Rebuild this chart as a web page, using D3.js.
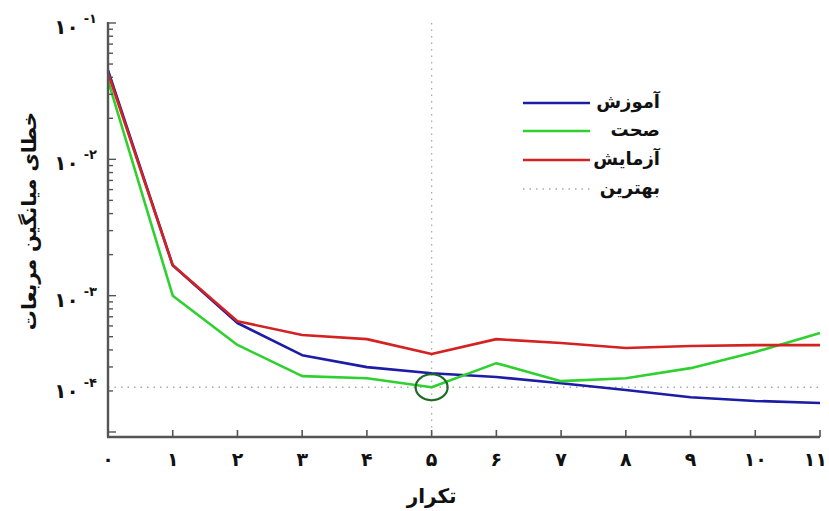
<!DOCTYPE html>
<html><head><meta charset="utf-8">
<script src="https://cdn.jsdelivr.net/npm/d3@7"></script>
<style>body{margin:0;background:#fff} svg{display:block}</style>
</head><body><svg id="c" width="829" height="511"></svg>
<script>
// ---- data ----
const epochs = [0,1,2,3,4,5,6,7,8,9,10,11];
const train      = [4.5e-2, 1.67e-3, 6.3e-4, 3.66e-4, 2.99e-4, 2.70e-4, 2.53e-4, 2.28e-4, 2.03e-4, 1.80e-4, 1.69e-4, 1.63e-4];
const validation = [3.8e-2, 1.0e-3, 4.35e-4, 2.57e-4, 2.48e-4, 2.13e-4, 3.2e-4, 2.36e-4, 2.48e-4, 2.94e-4, 3.86e-4, 5.32e-4];
const test       = [4.3e-2, 1.67e-3, 6.5e-4, 5.14e-4, 4.8e-4, 3.73e-4, 4.8e-4, 4.49e-4, 4.13e-4, 4.27e-4, 4.34e-4, 4.34e-4];
const bestEpoch = 5;
const bestValue = 2.13e-4;
const xTickLabels = ["۰","۱","۲","۳","۴","۵","۶","۷","۸","۹","۱۰","۱۱"];
const yTickValues = [1e-1, 1e-2, 1e-3, 2.13e-4];
const yTickExponents = ["-۱","-۲","-۳","-۴"];
const seriesNames = ["آموزش","صحت","آزمایش","بهترین"];
const xTitle = "تکرار";
const yTitle = "خطای میانگین مربعات";

// ---- layout ----
const svg = d3.select("#c");
const font = "'DejaVu Sans', sans-serif";
const x = d3.scaleLinear().domain([0, 11]).range([108, 820]);
const y = d3.scaleLog().domain([Math.pow(10, -4.0367), 1e-1]).range([437, 23]);
const colors = ["#1c1ca6", "#2fd02f", "#d42222"];
const axisColor = "#555";

// best dotted lines
svg.append("line").attr("x1", x(0)).attr("x2", x(11)).attr("y1", y(bestValue)).attr("y2", y(bestValue))
  .attr("stroke", "#aaa").attr("stroke-width", 1.3).attr("stroke-dasharray", "1.5,5");
svg.append("line").attr("x1", x(bestEpoch)).attr("x2", x(bestEpoch)).attr("y1", y.range()[1]).attr("y2", y.range()[0])
  .attr("stroke", "#aaa").attr("stroke-width", 1.3).attr("stroke-dasharray", "1.5,5");

// series
const line = d3.line().x((d, i) => x(epochs[i])).y(d => y(d));
[train, validation, test].forEach((s, k) => {
  svg.append("path").datum(s).attr("d", line).attr("fill", "none")
    .attr("stroke", colors[k]).attr("stroke-width", 2.6).attr("stroke-linejoin", "round");
});

// best marker circle
svg.append("ellipse").attr("cx", x(bestEpoch)).attr("cy", y(validation[bestEpoch]))
  .attr("rx", 16).attr("ry", 13).attr("fill", "none").attr("stroke", "#1d6b24").attr("stroke-width", 2.2);

// axes lines
svg.append("line").attr("x1", x(0)).attr("x2", x(0)).attr("y1", 22).attr("y2", 437)
  .attr("stroke", axisColor).attr("stroke-width", 2.4);
svg.append("line").attr("x1", x(0) - 1).attr("x2", x(11)).attr("y1", 437).attr("y2", 437)
  .attr("stroke", axisColor).attr("stroke-width", 2.4);

// x ticks
epochs.forEach((e, i) => {
  svg.append("line").attr("x1", x(e)).attr("x2", x(e)).attr("y1", 437).attr("y2", 430)
    .attr("stroke", axisColor).attr("stroke-width", 1.6);
  const last = i === epochs.length - 1;
  svg.append("text").attr("x", last ? 827 : x(e)).attr("y", 466)
    .attr("text-anchor", last ? "end" : "middle")
    .attr("font-family", font).attr("font-weight", "bold").attr("font-size", 19).attr("fill", "#111")
    .text(xTickLabels[i]);
});

// y ticks (major + minor)
for (let p = -4; p <= -1; p++) {
  for (let m = 1; m <= 9; m++) {
    const v = m * Math.pow(10, p);
    if (v > 0.1 + 1e-12 || v < y.domain()[0]) continue;
    svg.append("line").attr("x1", x(0)).attr("x2", x(0) + (m === 1 ? 8 : 5))
      .attr("y1", y(v)).attr("y2", y(v)).attr("stroke", axisColor).attr("stroke-width", 1.4);
  }
}
yTickValues.forEach((v, i) => {
  const t = svg.append("text").attr("x", 97).attr("y", y(v) + 11).attr("text-anchor", "end")
    .attr("direction", "ltr")
    .attr("font-family", font).attr("font-weight", "bold").attr("fill", "#111");
  t.append("tspan").attr("font-size", 20).text("۱۰");
  t.append("tspan").attr("font-size", 13).attr("dx", 5).attr("dy", -11).text(yTickExponents[i]);
});

// titles
svg.append("text").attr("x", x(5)).attr("y", 503).attr("text-anchor", "middle")
  .attr("font-family", font).attr("font-weight", "bold").attr("font-size", 20).attr("fill", "#111")
  .text(xTitle);
svg.append("text").attr("transform", "translate(36,221) rotate(-90)").attr("text-anchor", "middle")
  .attr("font-family", font).attr("font-weight", "bold").attr("font-size", 20).attr("fill", "#111")
  .text(yTitle);

// legend
const legY = [103, 131, 160, 189];
seriesNames.forEach((n, i) => {
  const l = svg.append("line").attr("x1", 523).attr("x2", 590).attr("y1", legY[i]).attr("y2", legY[i]);
  if (i < 3) l.attr("stroke", colors[i]).attr("stroke-width", 2.4);
  else l.attr("stroke", "#aaa").attr("stroke-width", 1.3).attr("stroke-dasharray", "1.5,5");
  svg.append("text").attr("x", 660).attr("y", legY[i] + 5).attr("text-anchor", "end")
    .attr("font-family", font).attr("font-weight", "bold").attr("font-size", 18).attr("fill", "#111")
    .text(n);
});
</script></body></html>
